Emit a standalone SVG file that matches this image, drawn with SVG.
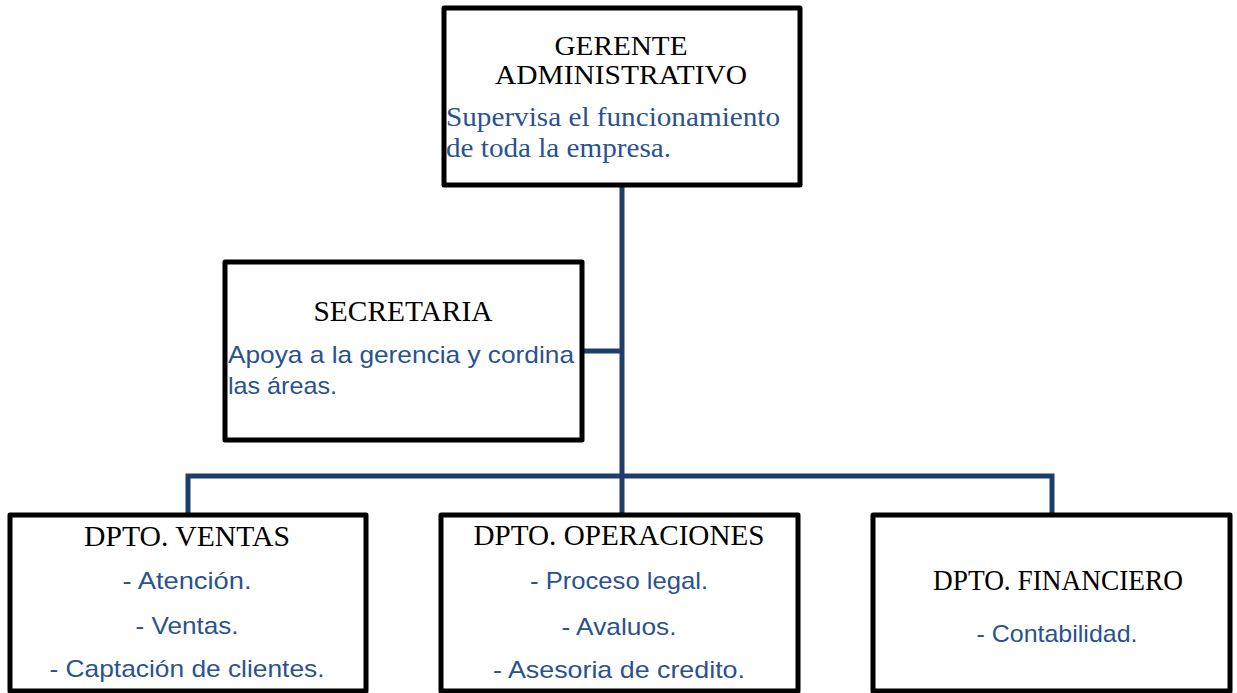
<svg xmlns="http://www.w3.org/2000/svg" width="1237" height="693" viewBox="0 0 1237 693">
<style>
.box{fill:#fff;stroke:#000;stroke-width:5;stroke-linejoin:round}
.title{font-family:"Liberation Serif","Times New Roman",serif;font-size:29px;fill:#000;text-anchor:middle}
.g{font-size:27px}
.sdesc{font-family:"Liberation Serif","Times New Roman",serif;font-size:28px;fill:#2a5290}
.desc{font-family:"Liberation Sans",Arial,sans-serif;font-size:24px;fill:#2a5290}
.c{text-anchor:middle}
.conn{fill:none;stroke:#1f3d6b;stroke-width:5}
</style>
<rect width="1237" height="693" fill="#fff"/>
<g id="connectors">
<line class="conn" x1="622" y1="185" x2="622" y2="515"/>
<line class="conn" x1="582" y1="351" x2="622" y2="351"/>
<polyline class="conn" points="188,515 188,476 1052,476 1052,515"/>
</g>
<g id="gerente">
<rect class="box" x="444" y="8" width="356" height="177"/>
<text class="title g" x="621" y="55" textLength="133" lengthAdjust="spacingAndGlyphs">GERENTE</text>
<text class="title g" x="621" y="84" textLength="252" lengthAdjust="spacingAndGlyphs">ADMINISTRATIVO</text>
<text class="sdesc" x="446" y="126" textLength="334" lengthAdjust="spacingAndGlyphs">Supervisa el funcionamiento</text>
<text class="sdesc" x="446" y="157" textLength="225" lengthAdjust="spacingAndGlyphs">de toda la empresa.</text>
</g>
<g id="secretaria">
<rect class="box" x="225" y="262" width="357" height="178"/>
<text class="title" x="403" y="321" textLength="179" lengthAdjust="spacingAndGlyphs">SECRETARIA</text>
<text class="desc" x="228" y="363" textLength="346" lengthAdjust="spacingAndGlyphs">Apoya a la gerencia y cordina</text>
<text class="desc" x="228" y="394" textLength="109" lengthAdjust="spacingAndGlyphs">las áreas.</text>
</g>
<g id="ventas">
<rect class="box" x="10" y="515" width="356" height="176"/>
<text class="title" x="187" y="546" textLength="206" lengthAdjust="spacingAndGlyphs">DPTO. VENTAS</text>
<text class="desc c" x="187" y="589" textLength="129" lengthAdjust="spacingAndGlyphs">- Atención.</text>
<text class="desc c" x="187" y="634" textLength="103" lengthAdjust="spacingAndGlyphs">- Ventas.</text>
<text class="desc c" x="187" y="677" textLength="275" lengthAdjust="spacingAndGlyphs">- Captación de clientes.</text>
</g>
<g id="operaciones">
<rect class="box" x="441" y="515" width="357" height="176"/>
<text class="title" x="619" y="545" textLength="291" lengthAdjust="spacingAndGlyphs">DPTO. OPERACIONES</text>
<text class="desc c" x="619" y="589" textLength="178" lengthAdjust="spacingAndGlyphs">- Proceso legal.</text>
<text class="desc c" x="619" y="635" textLength="115" lengthAdjust="spacingAndGlyphs">- Avaluos.</text>
<text class="desc c" x="619" y="678" textLength="252" lengthAdjust="spacingAndGlyphs">- Asesoria de credito.</text>
</g>
<g id="financiero">
<rect class="box" x="873" y="515" width="357" height="176"/>
<text class="title" x="1058" y="590" textLength="250" lengthAdjust="spacingAndGlyphs">DPTO. FINANCIERO</text>
<text class="desc c" x="1057" y="642" textLength="161" lengthAdjust="spacingAndGlyphs">- Contabilidad.</text>
</g>
</svg>
